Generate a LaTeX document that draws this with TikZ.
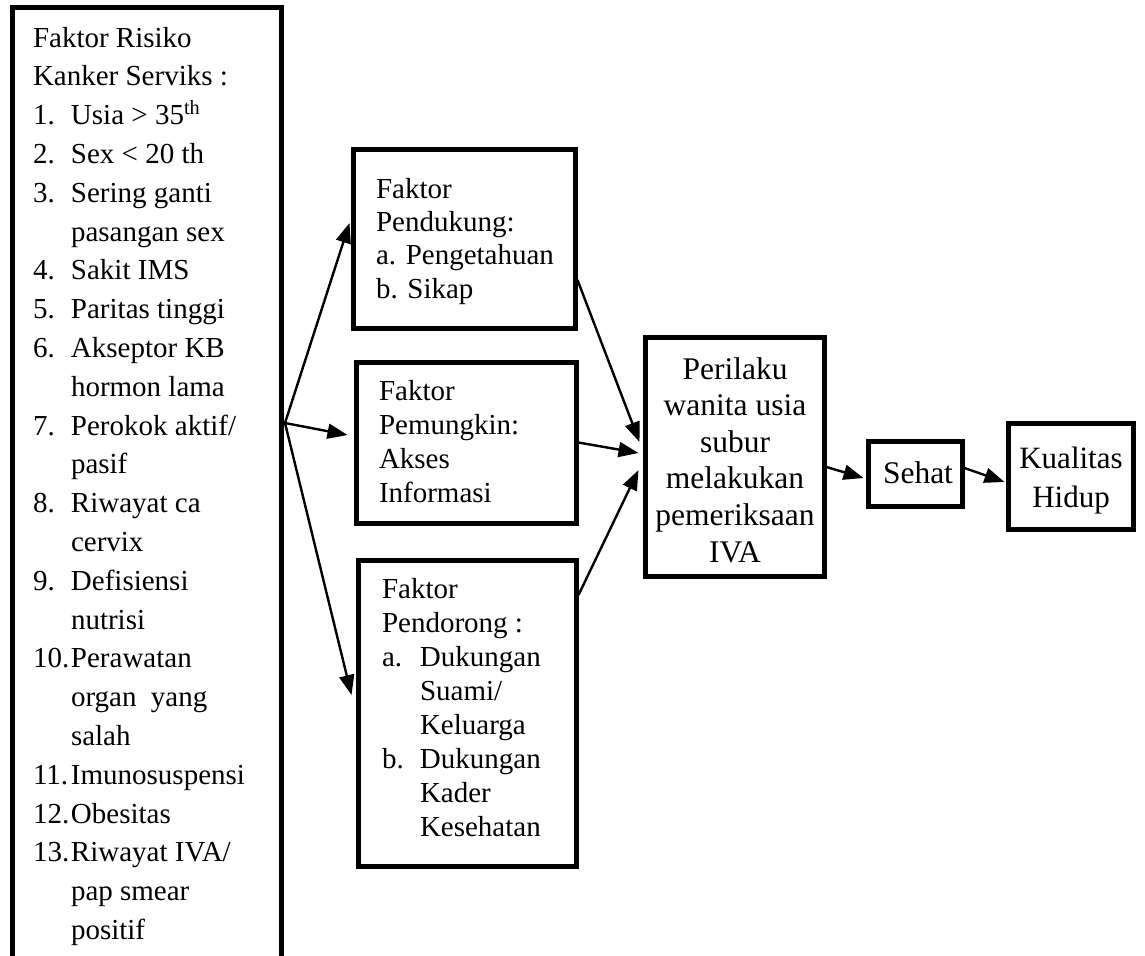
\documentclass[tikz,border=0pt]{standalone}
\usepackage{fontspec}
\setmainfont{Liberation Serif}
\usepackage{array}
\usetikzlibrary{arrows.meta,fit}
\begin{document}
\begin{tikzpicture}[x=0.5pt,y=-0.5pt,
  boxnode/.style={draw, line width=2.5pt, inner sep=0pt, rectangle},
  txt/.style={inner sep=0pt, outer sep=0pt},
  conn/.style={-{Triangle[length=10pt,width=7.5pt]}, line width=1.2pt}]
\useasboundingbox (0,0) rectangle (1145,955);
\clip (0,0) rectangle (1145,955);
% boxes
\node[boxnode, fit={(12,7) (281,990)}] (risk) {};
\node[boxnode, fit={(353,149) (575,328)}] (b1) {};
\node[boxnode, fit={(356,362) (576,523)}] (b2) {};
\node[boxnode, fit={(358,560) (576,866)}] (b3) {};
\node[boxnode, fit={(645,337) (824,576)}] (c) {};
\node[boxnode, fit={(868,441) (962,506)}] (s) {};
\node[boxnode, fit={(1008,423) (1133,529)}] (k) {};
% texts
\node[txt, anchor=base west] (risktext) at (33,47) {\fontsize{14.5pt}{19.4pt}\selectfont
\begin{tabular}[t]{@{}p{19pt}@{}l@{}}
\multicolumn{2}{@{}l@{}}{Faktor Risiko}\\
\multicolumn{2}{@{}l@{}}{Kanker Serviks :}\\
1. & Usia > 35\textsuperscript{th}\\
2. & Sex < 20 th\\
3. & Sering ganti\\
   & pasangan sex\\
4. & Sakit IMS\\
5. & Paritas tinggi\\
6. & Akseptor KB\\
   & hormon lama\\
7. & Perokok aktif/\\
   & pasif\\
8. & Riwayat ca\\
   & cervix\\
9. & Defisiensi\\
   & nutrisi\\
10.& Perawatan\\
   & organ\ \ yang\\
   & salah\\
11.& Imunosuspensi\\
12.& Obesitas\\
13.& Riwayat IVA/\\
   & pap smear\\
   & positif
\end{tabular}};
\node[txt, anchor=base west] (b1text) at (376,198) {\fontsize{14.5pt}{16.7pt}\selectfont
\begin{tabular}[t]{@{}l@{}}
Faktor\\ Pendukung:\\ a. Pengetahuan\\ b. Sikap
\end{tabular}};
\node[txt, anchor=base west] (b2text) at (379,400) {\fontsize{14.5pt}{17pt}\selectfont
\begin{tabular}[t]{@{}l@{}}
Faktor\\ Pemungkin:\\ Akses\\ Informasi
\end{tabular}};
\node[txt, anchor=base west] (b3text) at (382,598) {\fontsize{14.5pt}{17pt}\selectfont
\begin{tabular}[t]{@{}p{19pt}@{}l@{}}
\multicolumn{2}{@{}l@{}}{Faktor}\\
\multicolumn{2}{@{}l@{}}{Pendorong :}\\
a. & Dukungan\\
   & Suami/\\
   & Keluarga\\
b. & Dukungan\\
   & Kader\\
   & Kesehatan
\end{tabular}};
\node[txt, anchor=base] (ctext) at (735,379) {\fontsize{15.75pt}{18.3pt}\selectfont
\begin{tabular}[t]{@{}c@{}}
Perilaku\\ wanita usia\\ subur\\ melakukan\\ pemeriksaan\\ IVA
\end{tabular}};
\node[txt, anchor=base west] (stext) at (883,483) {\fontsize{15.75pt}{18.3pt}\selectfont Sehat};
\node[txt, anchor=base] (ktext) at (1071,468) {\fontsize{15.5pt}{19.5pt}\selectfont
\begin{tabular}[t]{@{}c@{}}
Kualitas\\ Hidup
\end{tabular}};
% connectors
\coordinate (fan) at (285,423);
\draw[conn] (fan) -- ([xshift=-0.5pt,yshift=7.75pt]b1.west);
\draw[conn] (fan) -- ([xshift=-3pt,yshift=3.75pt]b2.west);
\draw[conn] (fan) -- ([xshift=-2pt,yshift=9pt]b3.west);
\draw[conn] ([yshift=-20.75pt]b1.east) -- ([xshift=-1.5pt,yshift=7.25pt]c.west);
\draw[conn] (b2.east) -- ([xshift=-2pt,yshift=1.75pt]c.west);
\draw[conn] ([yshift=59pt]b3.east) -- ([xshift=-2pt,yshift=-6.75pt]c.west);
\draw[conn] ([yshift=-5.25pt]c.east) -- ([xshift=-1pt,yshift=-2.25pt]s.west);
\draw[conn] ([yshift=2.75pt]s.east) -- ([xshift=-0.5pt,yshift=-3pt]k.west);
\end{tikzpicture}
\end{document}
